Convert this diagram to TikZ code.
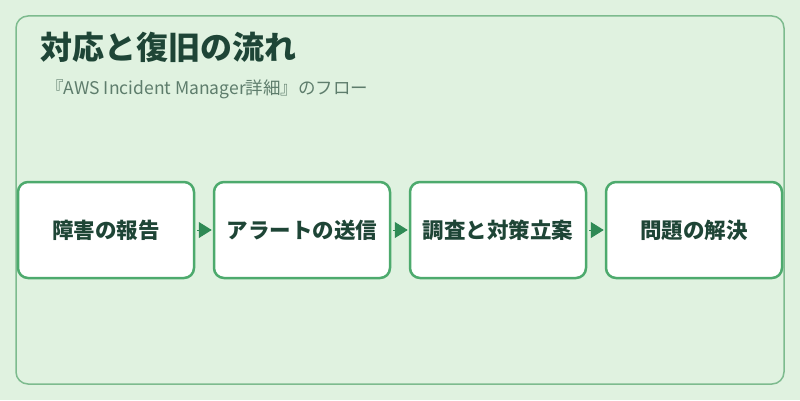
\documentclass[tikz,border=0pt]{standalone}
\usepackage{fontspec}
\setmainfont{Noto Sans CJK JP}
\usetikzlibrary{arrows.meta}
\definecolor{bgmint}{HTML}{E0F2E0}
\definecolor{framegreen}{HTML}{7DBB8E}
\definecolor{boxgreen}{HTML}{4DAA6D}
\definecolor{arrowgreen}{HTML}{2F8A55}
\definecolor{titlegreen}{HTML}{1E4536}
\definecolor{subgray}{HTML}{5E7D6C}
\tikzstyle{frame} = [draw = framegreen, line width=1.5pt, rounded corners=12pt]
\tikzstyle{process} = [rectangle, rounded corners=10pt, minimum width = 176pt, minimum height=96pt, text centered, draw = boxgreen, line width=2.5pt, fill = white, text=titlegreen, font=\fontsize{21.5}{26}\selectfont\bfseries]
\tikzstyle{arrow} = [-{Triangle[length=13pt,width=16pt]}, draw=arrowgreen, fill=arrowgreen, line width=1pt, shorten <=2pt, shorten >=1pt]

\begin{document}
\begin{tikzpicture}[x=1pt,y=1pt,node distance=196pt]
	\fill[bgmint](0,0) rectangle (800,400);
	\useasboundingbox (0,0) rectangle (800,400);
	\draw [frame](16,16) rectangle (784,384);
	\node (TITLE) [anchor=west,inner sep=0pt,text=titlegreen,font=\fontsize{32}{38}\selectfont\bfseries] at (40,353) {対応と復旧の流れ};
	\node (SUB) [anchor=west,inner sep=0pt,text=subgray,font=\fontsize{17.5}{21}\selectfont] at (46,311) {『AWS Incident Manager詳細』のフロー};
	
	\node (REPORT) [process] at (106,170) {障害の報告};
	\node (ALERT) [process, right of=REPORT] {アラートの送信};
	\node (PLAN) [process, right of=ALERT] {調査と対策立案};
	\node (SOLVE) [process, right of=PLAN] {問題の解決};
	\draw [arrow](REPORT) -- (ALERT);
	\draw [arrow](ALERT) -- (PLAN);
	\draw [arrow](PLAN) -- (SOLVE);
\end{tikzpicture}
\end{document}
